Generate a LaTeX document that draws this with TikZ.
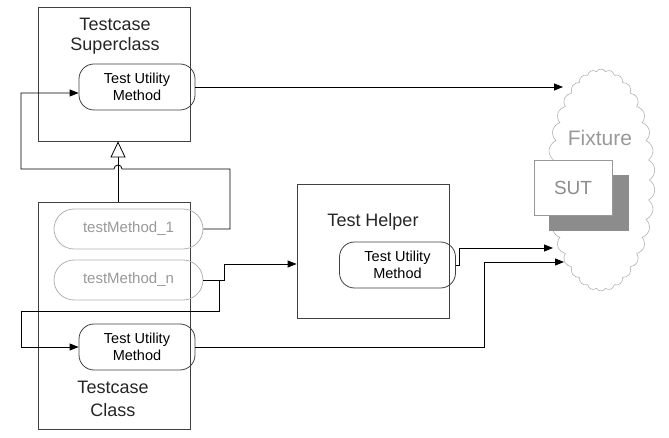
\documentclass[tikz,border=0pt]{standalone}
\usepackage{fontspec}
\setmainfont{Liberation Sans}
\usetikzlibrary{calc}
\usetikzlibrary{arrows.meta}
\usetikzlibrary{shapes.symbols}
\usetikzlibrary{positioning}

\begin{document}
\begin{tikzpicture}[x=1pt, y=-1pt,
    classbox/.style={draw=black!75, line width=0.8pt, minimum width=152pt, inner sep=0pt},
    method/.style={draw=black!75, line width=0.8pt, rounded corners=15pt, minimum width=116pt,
      minimum height=46pt, align=center, inner sep=0pt, font=\fontsize{14.5}{17}\selectfont},
    testmethod/.style={method, draw=black!30, text=black!40, minimum width=149pt,
      minimum height=40pt, rounded corners=20pt, font=\fontsize{15}{17}\selectfont},
    title/.style={align=center, text=black!85},
    flow/.style={line width=0.8pt, -{Triangle[length=9pt, width=7pt]}},
    wire/.style={line width=0.8pt}]
  \useasboundingbox (0,0) rectangle (669,438);

  % fixture cloud with the SUT
  \node[cloud, draw=black!30, line width=0.6pt, cloud puffs=34, cloud puff arc=120,
    cloud ignores aspect, minimum width=108pt, minimum height=222pt] (fixture) at (601,180) {};
  \node[text=black!40, font=\fontsize{21}{23}\selectfont] (fixturetitle) at (600,138) {Fixture};
  \fill[black!45] (549,175) rectangle (629,231);
  \node[draw=black!40, fill=white, minimum width=78pt, minimum height=55pt, text=black!45,
    font=\fontsize{19}{21}\selectfont] (sut) at (573,187.5) {SUT};

  % classes
  \node[classbox, minimum height=134pt] (super) at (114,74) {};
  \node[title, font=\fontsize{18}{20}\selectfont] (supertitle) at (115,36) {Testcase\\Superclass};
  \node[method] (superutil) at (137,87) {Test Utility\\Method};

  \node[classbox, minimum height=227pt] (class) at (114,315.5) {};
  \node[testmethod] (tm1) at (128.5,229) {testMethod\_1};
  \node[testmethod] (tmn) at (128.5,280) {testMethod\_n};
  \node[method] (classutil) at (137,347) {Test Utility\\Method};
  \node[title, font=\fontsize{18}{23}\selectfont] (classtitle) at (113,399) {Testcase\\Class};

  \node[classbox, minimum height=134pt] (helper) at (373,251) {};
  \node[title, font=\fontsize{18}{20}\selectfont] (helpertitle) at (373,222) {Test Helper};
  \node[method] (helperutil) at (397.5,265) {Test Utility\\Method};

  \coordinate (fixtop) at (563,87);
  \coordinate (fixmid) at (553,248);
  \coordinate (fixlow) at (564,262);
  \coordinate (lowbend) at (484,347);
  \coordinate (split) at (219,280);

  % inheritance
  \draw[line width=0.8pt, -{Triangle[open, length=16pt, width=15pt]}]
    ($(class.north)+(4,0)$) -- ($(super.south)+(4,0)$);

  % calls
  \draw[flow] (superutil.east) -- (superutil.east -| fixtop);
  \draw[flow] (helperutil.east) -- ++(3,0) |- (fixmid);
  \draw[flow] (classutil.east) -- (lowbend) |- (fixlow);
  \draw[flow] (tm1.east) -| (230,169) -- (122,169) arc[start angle=0, end angle=180, radius=4pt]
    -- (21,169) |- ($(superutil.west)+(0,6)$);
  \draw[flow] (tmn.east) -- (224,280) |- ($(helper.west)+(0,13)$);
  \draw[flow] (split) -- (219,311) -- (21,311) |- (classutil.west);

\end{tikzpicture}
\end{document}
